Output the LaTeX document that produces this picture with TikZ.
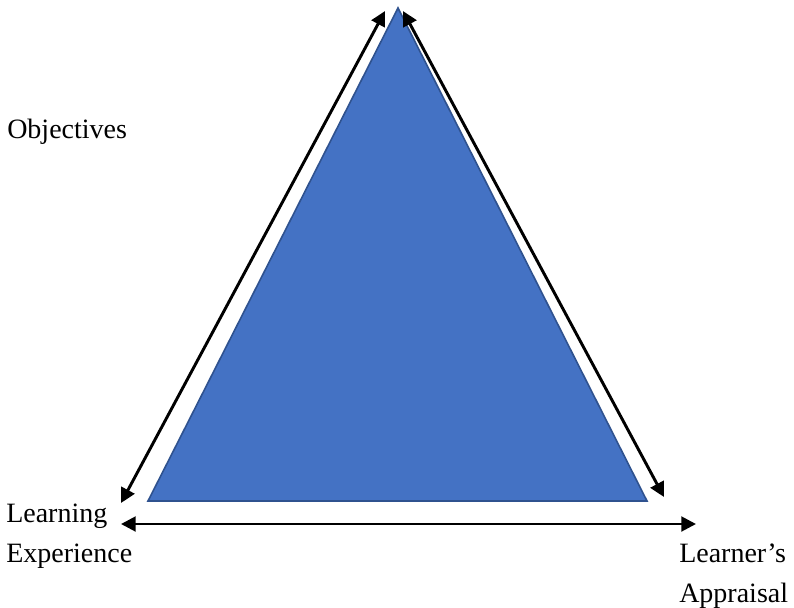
\documentclass[tikz,border=0pt]{standalone}
\usepackage{fontspec}
\setmainfont{Liberation Serif}
\usepackage{xcolor}
\usetikzlibrary{arrows.meta}

\definecolor{triblue}{HTML}{4472C4}
\definecolor{triedge}{HTML}{2F528F}

\begin{document}
\begin{tikzpicture}[
    x=0.75pt, y=-0.75pt,
    lbl/.style={anchor=base west, inner sep=0pt, align=left, font=\fontsize{21}{30}\selectfont},
    arr/.style={{Triangle[length=11pt,width=11pt]}-{Triangle[length=11pt,width=11pt]}, line width=2.2pt},
    tri/.style={fill=triblue, draw=triedge, line width=1.2pt}
  ]
    \useasboundingbox (0,0) rectangle (794,608);
    % triangle corners
    \coordinate (apex) at (398,8);
    \coordinate (baseL) at (148,501);
    \coordinate (baseR) at (647,501);
    \draw[tri] (apex) -- (baseL) -- (baseR) -- cycle;
    % arrow ends
    \coordinate (leftLo) at (121,503);
    \coordinate (leftHi) at (385,11);
    \coordinate (rightHi) at (403,11);
    \coordinate (rightLo) at (664,497);
    \coordinate (botL) at (121,524);
    \coordinate (botR) at (696,524);
    \draw[arr] (leftLo) -- (leftHi);
    \draw[arr] (rightHi) -- (rightLo);
    \draw[arr] (botL) -- (botR);
    % labels (base = last line)
    \node[lbl] (obj) at (7,138) {Objectives};
    \node[lbl] (learn) at (6,562) {Learning\\Experience};
    \node[lbl] (appr) at (679,602) {Learner’s\\Appraisal};
  \end{tikzpicture}
\end{document}
